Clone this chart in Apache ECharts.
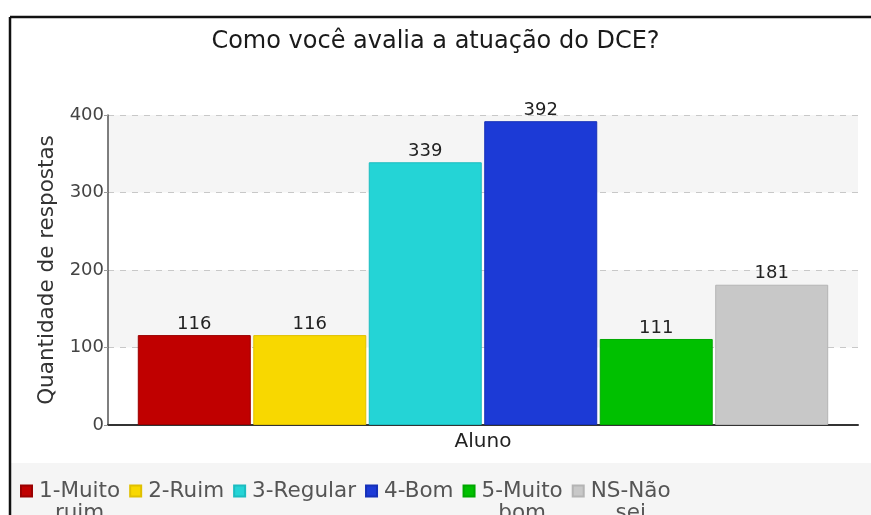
<!DOCTYPE html>
<html>
<head>
<meta charset="utf-8">
<title>Como você avalia a atuação do DCE?</title>
<script src="https://cdn.jsdelivr.net/npm/echarts@6/dist/echarts.min.js"></script>
<style>
  html, body { margin: 0; padding: 0; background: #ffffff; }
  #chart { width: 871px; height: 515px; }
</style>
</head>
<body>
<div id="chart"></div>
<script>
// Survey answers: one group ("Aluno"), one bar per answer option
const categories = ['Aluno'];
const answerNames = ['1-Muito ruim', '2-Ruim', '3-Regular', '4-Bom', '5-Muito bom', 'NS-Não sei'];
const answerCounts = [116, 116, 339, 392, 111, 181];
const answerColors = ['#c00000', '#f8d800', '#24d4d6', '#1c3ad6', '#00c000', '#c8c8c8'];
const answerBorders = ['#9a0000', '#e0c000', '#1cbcc0', '#1530b8', '#00a800', '#b4b4b4'];
const yMin = 0, yMax = 400, yStep = 100;

const FONT = 'DejaVu Sans';
const chart = echarts.init(document.getElementById('chart'), null, { renderer: 'canvas' });

const series = answerNames.map((name, i) => ({
  name: name,
  type: 'bar',
  data: [answerCounts[i]],
  barWidth: 113,
  barGap: '2.2%',
  itemStyle: { color: answerColors[i], borderColor: answerBorders[i], borderWidth: 1 },
  label: {
    show: true, position: 'top', distance: 2,
    fontFamily: FONT, fontSize: 18, color: '#222'
  },
  emphasis: { disabled: true }
}));

chart.setOption({
  animation: false,
  textStyle: { fontFamily: FONT },
  title: {
    text: 'Como você avalia a atuação do DCE?',
    left: 'center', top: 30, padding: 0,
    textStyle: { fontFamily: FONT, fontSize: 24, fontWeight: 'normal', color: '#1a1a1a' }
  },
  graphic: [
    // legend band
    { type: 'rect', z: -10, shape: { x: 11, y: 463, width: 860, height: 52 }, style: { fill: '#f5f5f5' } },
    // outer frame (top and left edges)
    { type: 'line', z: 10, shape: { x1: 10, y1: 17, x2: 871, y2: 17 }, style: { stroke: '#111', lineWidth: 2.5 } },
    { type: 'line', z: 10, shape: { x1: 10, y1: 17, x2: 10, y2: 515 }, style: { stroke: '#111', lineWidth: 2.5 } }
  ],
  legend: {
    left: 20, top: 480, padding: 0,
    itemWidth: 11, itemHeight: 11, itemGap: 9,
    icon: 'rect',
    data: answerNames,
    formatter: function (name) {
      const k = name.indexOf(' ');
      const first = k < 0 ? name : name.slice(0, k);
      const second = k < 0 ? ' ' : name.slice(k + 1);
      return '{a|' + first + '}\n{b|' + second + '}';
    },
    textStyle: {
      fontFamily: FONT, fontSize: 21.5, color: '#555',
      padding: [22, 0, 0, 2],
      rich: {
        a: { fontFamily: FONT, fontSize: 21.5, lineHeight: 22, color: '#555' },
        b: { fontFamily: FONT, fontSize: 21.5, lineHeight: 22, color: '#555', align: 'center' }
      }
    }
  },
  grid: { left: 108, right: 13, top: 115, bottom: 90, containLabel: false },
  xAxis: {
    type: 'category',
    data: categories,
    axisLine: { lineStyle: { color: '#333', width: 2 } },
    axisTick: { show: false },
    axisLabel: { fontFamily: FONT, fontSize: 20, color: '#222', margin: 7 }
  },
  yAxis: {
    type: 'value',
    min: yMin, max: yMax, interval: yStep,
    name: 'Quantidade de respostas',
    nameLocation: 'middle',
    nameGap: 50,
    nameTextStyle: { fontFamily: FONT, fontSize: 21.5, color: '#333' },
    axisLine: { show: true, lineStyle: { color: '#555', width: 1.5 } },
    axisTick: { show: true, length: 4, lineStyle: { color: '#999' } },
    axisLabel: { fontFamily: FONT, fontSize: 18, color: '#444', margin: 4 },
    splitLine: { show: true, lineStyle: { color: '#c8c8c8', type: [6, 6], width: 1 } },
    splitArea: { show: true, areaStyle: { color: ['#ffffff', '#f5f5f5'] } }
  },
  series: series
});
</script>
</body>
</html>
